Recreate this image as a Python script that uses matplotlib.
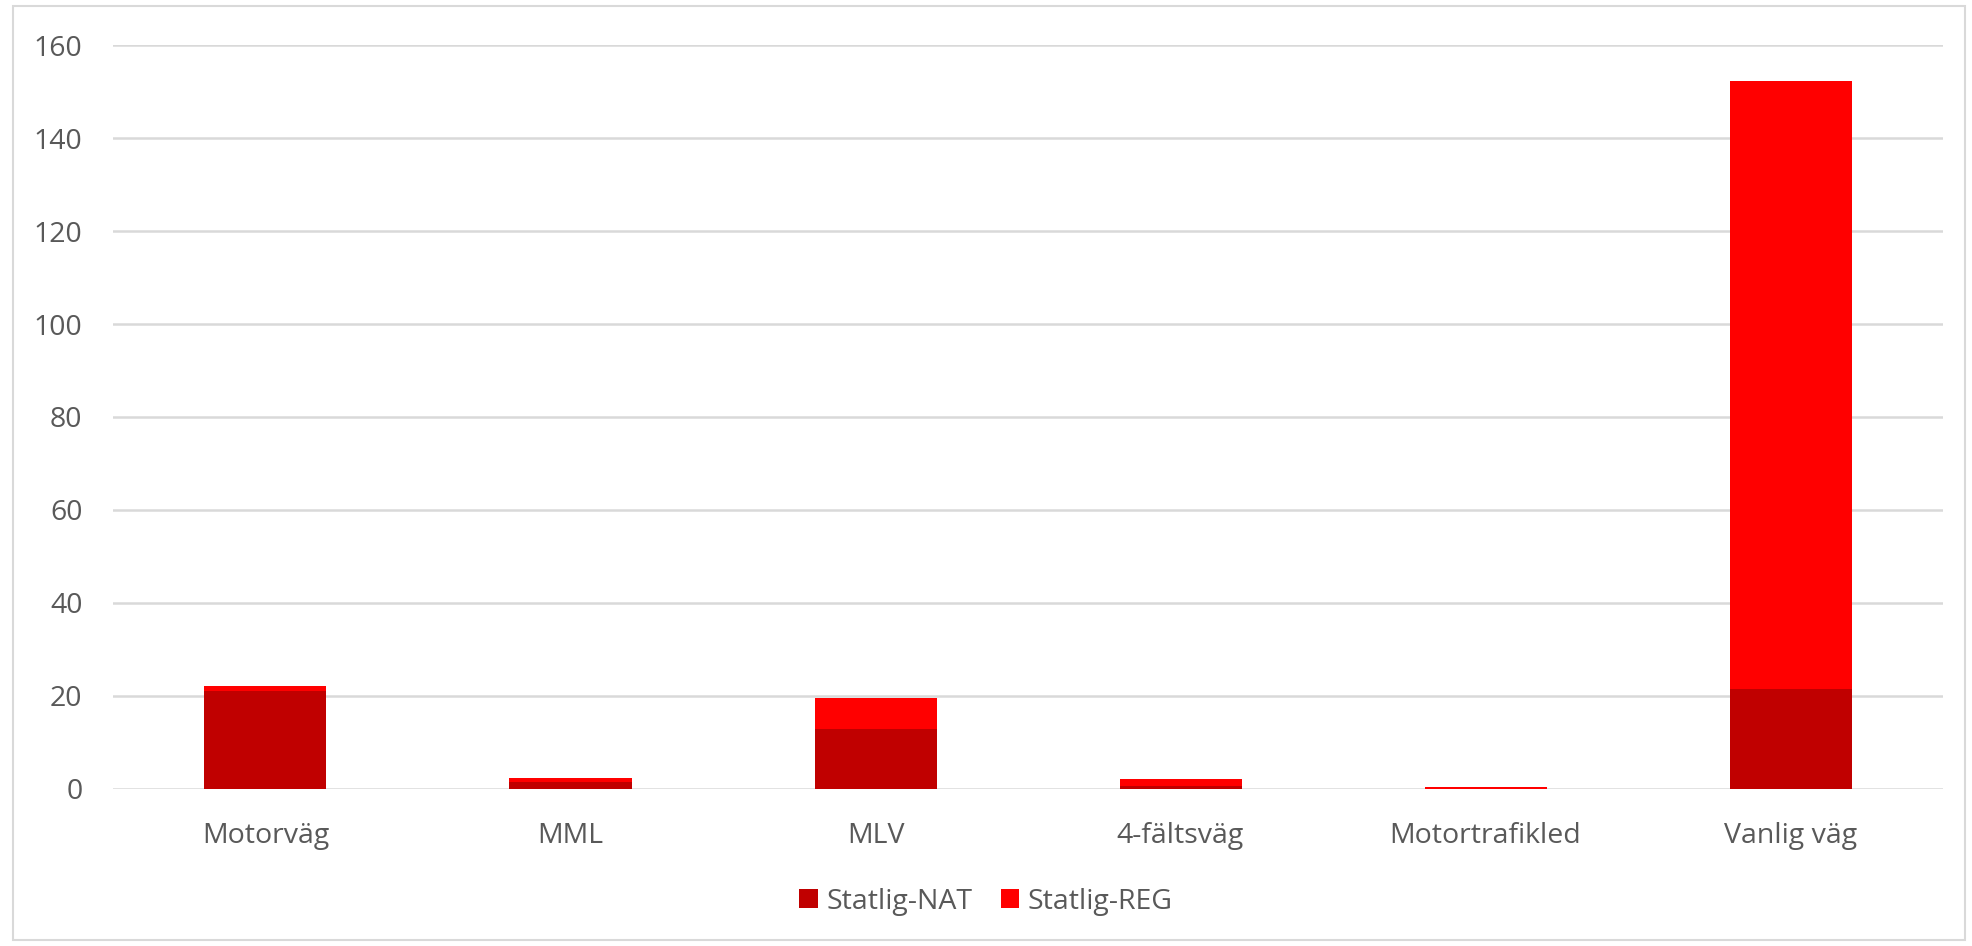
import numpy as np
import matplotlib.pyplot as plt
from matplotlib.patches import Rectangle

categories = ['Motorväg', 'MML', 'MLV', '4-fältsväg', 'Motortrafikled', 'Vanlig väg']
nat = [21.0, 1.5, 13.0, 0.6, 0.0, 21.6]
reg = [1.2, 0.8, 6.5, 1.5, 0.4, 130.6]
yticks = [0, 20, 40, 60, 80, 100, 120, 140, 160]

plt.rcParams['font.family'] = ['Open Sans', 'DejaVu Sans']
text_col = '#595959'
grid_col = '#d9d9d9'

fig = plt.figure(figsize=(19.72, 9.46), dpi=100)
ax = fig.add_axes([0.0573, 0.166, 0.928, 0.7864])

x = np.arange(len(categories))
ax.bar(x, nat, width=0.4, color='#c00000', label='Statlig-NAT', zorder=3)
ax.bar(x, reg, width=0.4, bottom=nat, color='#ff0000', label='Statlig-REG', zorder=3)

ax.set_xlim(-0.5, len(categories) - 0.5)
ax.set_ylim(0, 160)
ax.set_yticks(yticks)
ax.set_xticks(x)
ax.set_xticklabels(categories)
ax.tick_params(axis='both', length=0, labelsize=20.5, colors=text_col)
ax.tick_params(axis='x', pad=24)
ax.tick_params(axis='y', pad=22)
ax.yaxis.grid(True, color=grid_col, linewidth=1.8, zorder=0)
for s in ax.spines.values():
    s.set_visible(False)

leg = fig.legend(loc='center', bbox_to_anchor=(0.5, 0.047), ncol=2, frameon=False,
                 fontsize=20.5, handlelength=0.65, handleheight=0.65, handletextpad=0.3,
                 columnspacing=1.0)
for t in leg.get_texts():
    t.set_color(text_col)

# outer chart border
fig.patches.append(Rectangle((13 / 1972, 6 / 946), 1 - 20 / 1972, 1 - 12 / 946,
                             transform=fig.transFigure, fill=False,
                             edgecolor=grid_col, linewidth=1.5))

fig.savefig('out.png', dpi=100)
